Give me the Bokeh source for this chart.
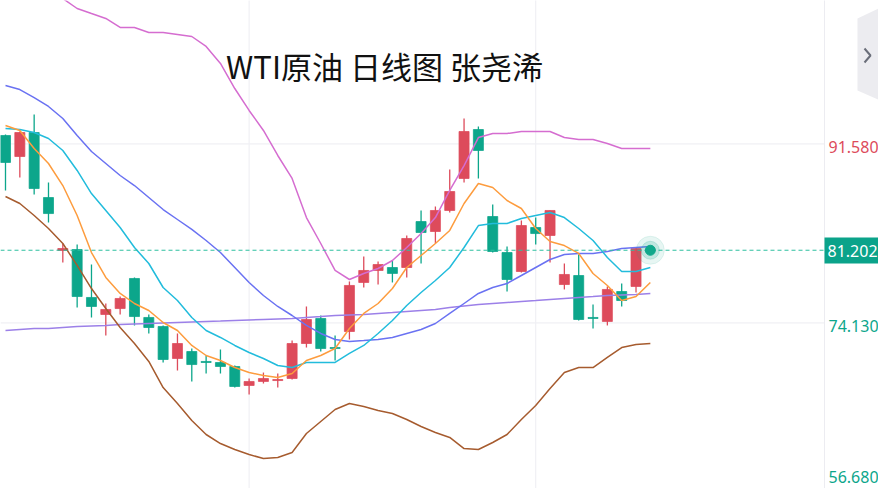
from bokeh.plotting import figure
from bokeh.models import Range1d, ColumnDataSource
from bokeh.core.properties import value
from bokeh.embed import file_html
from bokeh.resources import INLINE

# ---------------- data ----------------
open_ = [92.39, 90.34, 92.68, 86.34, 81.18, 81.27, 76.60, 74.94, 75.52, 78.45,
         74.65, 73.77, 70.65, 71.33, 70.36, 70.26, 69.87, 68.02, 68.41, 68.50,
         68.70, 72.11, 74.55, 71.72, 73.28, 78.06, 79.23, 79.52, 79.52, 84.00,
         83.03, 85.08, 88.20, 92.97, 84.49, 80.98, 79.13, 83.42, 82.64, 77.86,
         78.74, 74.65, 74.26, 77.18, 77.67, 81.20]
high = [92.49, 92.78, 94.44, 87.81, 81.86, 81.76, 79.81, 76.01, 76.69, 78.55,
        74.94, 73.87, 73.09, 71.62, 70.94, 71.53, 69.97, 68.70, 69.28, 69.19,
        72.40, 75.72, 74.84, 72.89, 78.16, 80.59, 80.11, 80.20, 82.64, 85.08,
        85.47, 89.07, 94.05, 93.27, 85.66, 81.57, 84.10, 84.39, 85.08, 79.91,
        80.79, 75.91, 77.67, 77.96, 81.47, 81.30]
low = [87.03, 88.29, 86.64, 83.91, 80.01, 75.62, 74.65, 72.89, 74.94, 73.87,
       73.09, 70.26, 69.48, 68.41, 69.19, 69.19, 67.82, 67.14, 68.21, 67.82,
       68.60, 71.72, 71.33, 70.45, 72.50, 77.57, 77.86, 78.06, 78.55, 79.91,
       81.86, 84.88, 87.81, 88.20, 80.98, 77.18, 79.03, 81.76, 80.01, 77.38,
       74.35, 73.57, 73.87, 75.72, 77.08, 81.10]
close = [89.76, 92.68, 87.22, 84.78, 81.37, 76.69, 75.72, 75.43, 76.50, 74.74,
         73.67, 70.55, 72.11, 70.06, 70.26, 69.87, 67.92, 68.41, 68.70, 68.60,
         72.11, 74.45, 71.62, 71.62, 77.77, 79.23, 79.81, 78.94, 82.35, 82.93,
         85.08, 86.93, 92.78, 90.93, 81.08, 78.35, 83.61, 82.83, 85.08, 78.84,
         74.45, 74.55, 77.38, 76.30, 81.37, 81.20]

ma5 = [93.36, 92.88, 91.12, 89.66, 87.51, 84.59, 80.98, 78.55, 76.99, 76.01,
       75.33, 74.16, 73.38, 71.92, 70.94, 70.45, 69.77, 69.28, 68.99, 68.80,
       69.19, 70.45, 70.94, 71.62, 73.57, 75.04, 76.01, 77.47, 79.52, 80.69,
       81.86, 83.13, 85.76, 87.71, 87.32, 86.05, 85.27, 83.32, 82.05, 81.66,
       80.89, 78.94, 77.77, 76.30, 76.69, 78.06]
ma10 = [93.07, 92.97, 92.68, 92.10, 90.93, 88.98, 86.73, 85.08, 83.42, 81.47,
        79.91, 77.57, 76.30, 74.65, 73.38, 72.70, 71.92, 71.23, 70.65, 69.97,
        69.77, 70.26, 70.26, 70.26, 71.14, 71.92, 73.09, 74.35, 75.82, 77.08,
        78.25, 79.52, 81.47, 83.61, 83.81, 83.81, 84.30, 84.59, 84.88, 84.39,
        83.32, 82.15, 80.50, 79.13, 79.13, 79.52]
boll_mid = [97.26, 96.87, 96.09, 95.22, 94.05, 92.39, 90.83, 89.66, 88.49, 87.51,
            86.34, 85.17, 84.20, 83.23, 82.15, 80.98, 79.52, 78.06, 76.79, 75.72,
            74.84, 73.87, 73.09, 72.50, 72.31, 72.40, 72.50, 72.70, 73.09, 73.48,
            74.06, 75.04, 76.01, 76.99, 77.57, 77.96, 78.74, 79.52, 80.30, 80.79,
            80.89, 80.89, 81.08, 81.37, 81.47, 81.57]
boll_up = [108.47, 107.99, 107.50, 106.72, 105.74, 104.77, 104.28, 103.80, 102.92, 102.92,
           102.43, 102.43, 102.24, 102.04, 101.07, 99.41, 96.97, 94.83, 92.88, 90.44,
           88.20, 84.39, 81.86, 79.23, 78.35, 78.94, 79.42, 80.20, 81.47, 82.83,
           84.39, 87.03, 89.46, 92.19, 92.58, 92.58, 92.78, 92.78, 92.78, 92.19,
           92.00, 92.00, 91.61, 91.12, 91.12, 91.12]
boll_low = [86.44, 85.76, 84.59, 83.32, 81.86, 79.72, 77.47, 75.52, 73.67, 72.11,
            70.36, 67.82, 66.26, 64.60, 63.24, 62.36, 61.78, 61.29, 60.90, 61.00,
            61.49, 63.34, 64.51, 65.68, 66.26, 65.97, 65.58, 65.29, 64.70, 64.02,
            63.43, 62.95, 61.87, 61.78, 62.46, 63.24, 64.70, 66.07, 67.72, 69.28,
            69.77, 69.77, 70.75, 71.72, 72.01, 72.11]
ma60 = [73.38, 73.48, 73.57, 73.57, 73.67, 73.77, 73.82, 73.87, 73.96, 74.01,
        74.06, 74.11, 74.16, 74.21, 74.26, 74.30, 74.35, 74.40, 74.45, 74.50,
        74.55, 74.65, 74.74, 74.84, 74.89, 74.94, 75.04, 75.13, 75.23, 75.33,
        75.43, 75.62, 75.77, 75.91, 76.01, 76.11, 76.21, 76.30, 76.40, 76.50,
        76.60, 76.69, 76.79, 76.84, 76.89, 76.99]

last_price = 81.202
grid_prices = [91.58, 74.13]
axis_labels = ["91.580", "74.130", "56.680"]
vgrid_idx = [17, 37]
title_text = "WTI原油 日线图 张尧浠"

# ---------------- layout helpers ----------------
W, H = 878, 488
X0, DX = 5.0, 14.33           # pixel x of candle 0, candle spacing
P0, DP = 105.55, 0.09749      # price at pixel y = 0, price per pixel


def gx(px):
    return (px - X0) / DX


def gy(py):
    return P0 - DP * py


RED = "#dd4b5b"
GREEN = "#0ca68b"
LABEL_FONT = value("Noto Sans")

p = figure(width=W, height=H, output_backend="svg", toolbar_location=None,
           x_axis_location=None, y_axis_location=None,
           x_range=Range1d(gx(0), gx(W)), y_range=Range1d(gy(H), gy(0)),
           min_border=0, tools="")
p.outline_line_color = None
p.background_fill_color = "white"
p.border_fill_color = "white"
p.xgrid.visible = False
p.ygrid.visible = False

n = len(open_)
idx = list(range(n))
colors = [RED if c >= o else GREEN for o, c in zip(open_, close)]
src = ColumnDataSource(dict(
    x=idx, o=open_, h=high, l=low, c=close,
    top=[max(o, c) for o, c in zip(open_, close)],
    bot=[min(o, c) for o, c in zip(open_, close)],
    col=colors))

# grid lines
for gp in grid_prices:
    p.segment(x0=gx(0), y0=gp, x1=gx(824), y1=gp, line_color="#f0f0f4", line_width=1.2)
for vi in vgrid_idx:
    p.segment(x0=vi, y0=gy(-5), x1=vi, y1=gy(H + 5), line_color="#f0f0f4", line_width=1.2)

# right border of the price pane
p.segment(x0=gx(824), y0=gy(-5), x1=gx(824), y1=gy(H + 5), line_color="#ececf1", line_width=1)

# candles
p.segment(x0="x", y0="l", x1="x", y1="h", line_color="col", line_width=1.3, source=src)
p.vbar(x="x", width=0.7, top="top", bottom="bot", fill_color="col",
       line_color="col", line_width=1, line_alpha=0.75, source=src)

# indicator lines
p.line(idx, ma60, line_color="#9c80e8", line_width=1.5)
p.line(idx, boll_mid, line_color="#6a72f2", line_width=1.5)
p.line(idx, ma10, line_color="#22bcdc", line_width=1.5)
p.line(idx, ma5, line_color="#fd9c3e", line_width=1.5)
p.line(idx, boll_up, line_color="#d56dd0", line_width=1.5)
p.line(idx, boll_low, line_color="#a65b2e", line_width=1.5)

# current price line and marker
p.segment(x0=gx(0), y0=last_price, x1=gx(824), y1=last_price,
          line_color="#2dbf9f", line_width=1, line_dash="4 3")
p.scatter([n - 1], [last_price], size=28, color="#10a88b", alpha=0.10)
p.scatter([n - 1], [last_price], size=18, color="#10a88b", alpha=0.18)
p.scatter([n - 1], [last_price], size=10, color="#10a88b", alpha=1.0)

# right-hand price labels
p.text(x=[gx(828)], y=[gy(146)], text=[axis_labels[0]], text_color=RED,
       text_font=LABEL_FONT, text_font_size="16px",
       text_baseline="middle", text_align="left")
p.text(x=[gx(828)], y=[gy(325)], text=[axis_labels[1]], text_color=GREEN,
       text_font=LABEL_FONT, text_font_size="16px",
       text_baseline="middle", text_align="left")
p.text(x=[gx(828)], y=[gy(476)], text=[axis_labels[2]], text_color=GREEN,
       text_font=LABEL_FONT, text_font_size="16px",
       text_baseline="middle", text_align="left")
p.quad(left=[gx(824)], right=[gx(W + 10)], top=[gy(237)], bottom=[gy(263)],
       fill_color="#0ba38a", line_color=None)
p.text(x=[gx(827)], y=[gy(250)], text=["%.3f" % last_price], text_color="white",
       text_font=LABEL_FONT, text_font_size="16px",
       text_baseline="middle", text_align="left")

# collapse tab at the top right edge
p.patch(x=[gx(W + 2), gx(857), gx(857), gx(W + 2)], y=[gy(7), gy(18), gy(90), gy(100)],
        fill_color="#ececf0", line_color=None)
p.line(x=[gx(864), gx(870), gx(864)], y=[gy(48), gy(55), gy(62)],
       line_color="#6b6f7a", line_width=2)

# title
p.text(x=[gx(384)], y=[gy(65)], text=[title_text], text_color="#111111",
       text_font=value("Noto Sans CJK SC"), text_font_size="31px",
       text_baseline="middle", text_align="center")

open("out.html", "w").write(file_html(p, INLINE))
